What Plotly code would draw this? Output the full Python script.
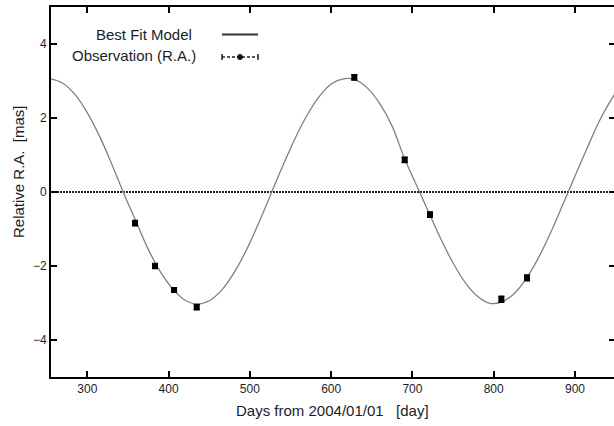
import plotly.graph_objects as go

# Best-fit model curve
model_days = [255, 270, 285, 300, 315, 330, 345, 360, 375, 390, 405, 420, 435, 450,
              465, 480, 495, 510, 525, 540, 555, 570, 585, 600, 615, 630, 645, 660,
              675, 690, 705, 720, 735, 750, 765, 780, 795, 810, 825, 840, 855, 870,
              885, 900, 915, 930, 945, 950]
model_ra = [3.06, 2.94, 2.63, 2.14, 1.51, 0.76, -0.05, -0.80, -1.55, -2.16, -2.62, -2.92, -3.03, -2.94,
            -2.66, -2.20, -1.60, -0.88, -0.10, 0.68, 1.42, 2.06, 2.57, 2.92, 3.06, 3.03, 2.80, 2.38,
            1.78, 0.92, 0.18, -0.55, -1.27, -1.92, -2.45, -2.82, -3.01, -2.97, -2.75, -2.34, -1.78, -1.10,
            -0.34, 0.43, 1.19, 1.92, 2.51, 2.68]

# Observations (R.A.)
obs_days = [358.7, 383.3, 406.7, 434.6, 628.5, 690.5, 721.6, 809.4, 841.0]
obs_ra = [-0.84, -2.00, -2.65, -3.11, 3.10, 0.87, -0.61, -2.90, -2.32]
obs_err = [0.07, 0.07, 0.06, 0.07, 0.07, 0.07, 0.07, 0.08, 0.08]

x_ticks = [300, 400, 500, 600, 700, 800, 900]
y_ticks = [-4, -2, 0, 2, 4]

FONT = "Liberation Sans, Arial, Helvetica, sans-serif"
TXT = "#1c1c28"

fig = go.Figure()
fig.add_trace(go.Scatter(x=model_days, y=model_ra, mode="lines", line=dict(color="#808080", width=1.3, shape="spline"),
                         showlegend=False))
fig.add_trace(go.Scatter(x=obs_days, y=obs_ra, mode="markers",
                         marker=dict(symbol="square", size=6, color="black"),
                         error_y=dict(type="data", array=obs_err, visible=True, color="black", thickness=1.5, width=3),
                         showlegend=False))
# invisible trace to drive a right-side y axis for mirrored ticks (no line)
fig.add_trace(go.Scatter(x=[obs_days[0]], y=[obs_ra[0]], yaxis="y2", mode="markers",
                         marker=dict(opacity=0), showlegend=False, hoverinfo="skip"))

W, H = 614, 426
L, R, T, B = 51, 0, 7, 49
pw, ph = W - L - R, H - T - B

def px(xp):
    return (xp - L) / pw

def py(yp):
    return (H - B - yp) / ph

shapes = []
# zero line
shapes.append(dict(type="line", xref="paper", yref="y", x0=0, x1=1, y0=0, y1=0,
                   line=dict(color="#222222", width=2, dash="2px,1px"), layer="below"))
# legend sample: best fit model
shapes.append(dict(type="line", xref="paper", yref="paper", x0=px(222), x1=px(258), y0=py(34.5), y1=py(34.5),
                   line=dict(color="#333333", width=2)))
# legend sample: observation
yo = py(57)
shapes.append(dict(type="line", xref="paper", yref="paper", x0=px(222), x1=px(258), y0=yo, y1=yo,
                   line=dict(color="#222222", width=1.5, dash="3px,2px")))
for xc in (222, 258):
    shapes.append(dict(type="line", xref="paper", yref="paper", x0=px(xc), x1=px(xc), y0=py(54), y1=py(60),
                       line=dict(color="#222222", width=1.5)))
shapes.append(dict(type="circle", xref="paper", yref="paper", x0=px(237.5), x1=px(242.5), y0=py(59.5), y1=py(54.5),
                   fillcolor="#111111", line=dict(color="#111111", width=1)))

annotations = [
    dict(text="Best Fit Model", xref="paper", yref="paper", x=px(194), y=py(34), xanchor="right", yanchor="middle",
         showarrow=False, font=dict(family=FONT, size=15, color=TXT)),
    dict(text="Observation (R.A.)", xref="paper", yref="paper", x=px(198), y=py(55.5), xanchor="right", yanchor="middle",
         showarrow=False, font=dict(family=FONT, size=15, color=TXT)),
    dict(text="Days from 2004/01/01 &nbsp;&nbsp;[day]", xref="paper", yref="paper", x=px(332), y=py(410),
         xanchor="center", yanchor="middle", showarrow=False, font=dict(family=FONT, size=15, color=TXT)),
    dict(text="Relative R.A. &nbsp;[mas]", xref="paper", yref="paper", x=px(18), y=py(172), textangle=-90,
         xanchor="center", yanchor="middle", showarrow=False, font=dict(family=FONT, size=15, color=TXT)),
]

fig.update_layout(
    width=W, height=H,
    margin=dict(l=L, r=R, t=T, b=B, pad=0),
    paper_bgcolor="white", plot_bgcolor="white",
    shapes=shapes, annotations=annotations,
    xaxis=dict(range=[255.3, 948], tickvals=x_ticks, ticks="inside", ticklen=6, tickwidth=1.5, tickcolor="black",
               showline=True, linecolor="black", linewidth=2, mirror="ticks", showgrid=False, zeroline=False,
               tickfont=dict(family=FONT, size=12, color=TXT)),
    yaxis=dict(range=[-5, 5], tickvals=y_ticks, ticks="inside", ticklen=6, tickwidth=1.5, tickcolor="black",
               showline=True, linecolor="black", linewidth=2, mirror=False, showgrid=False, zeroline=False,
               tickfont=dict(family=FONT, size=12, color=TXT)),
    yaxis2=dict(range=[-5, 5], overlaying="y", side="right", tickvals=y_ticks, ticks="inside", ticklen=5,
                tickwidth=1.5, tickcolor="black", showline=False, showgrid=False, zeroline=False,
                showticklabels=False),
    showlegend=False,
)

fig.write_html("out.html")
